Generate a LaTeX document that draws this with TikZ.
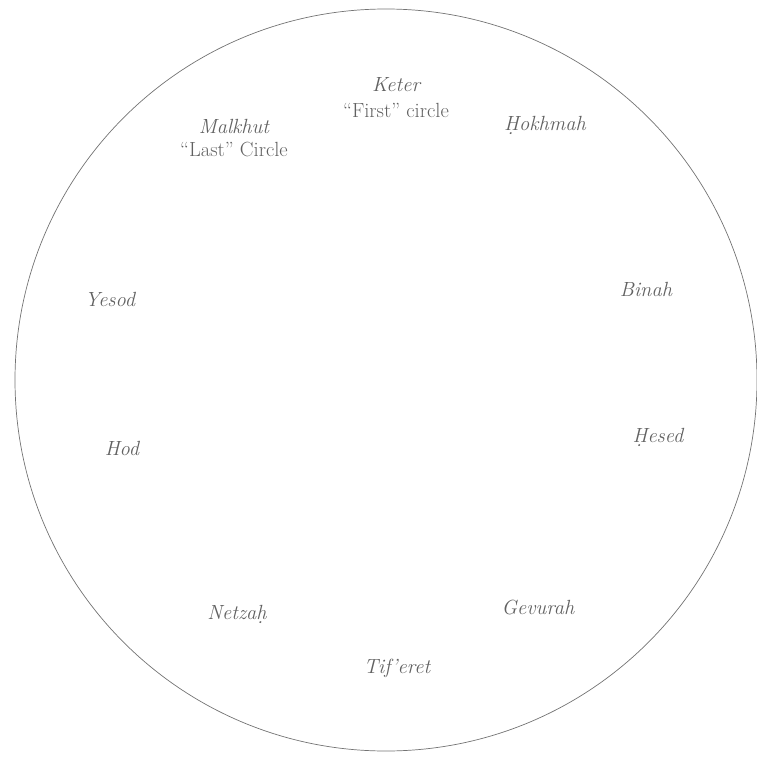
\documentclass[tikz,border=0pt]{standalone}
\begin{document}
\begin{tikzpicture}[x=1pt,y=-1pt,
  lbl/.style={text=black!62,font=\fontsize{20.5}{24}\selectfont\itshape,inner sep=0pt,align=center},
  sub/.style={text=black!62,font=\fontsize{20.5}{24}\selectfont,inner sep=0pt,align=center}]
\useasboundingbox (0,0) rectangle (756,757);
\draw[black!55,line width=0.7pt] (386,380) circle (371);
\node[lbl] (keter) at (396,85) {Keter};
\node[sub] (first) at (396,110) {``First'' circle};
\node[lbl] (malkhut) at (234,126) {Malkhut};
\node[sub] (last) at (234,149) {``Last'' Circle};
\node[lbl] (hokhmah) at (545,125) {\d{H}okhmah};
\node[lbl] (binah) at (646,289) {Binah};
\node[lbl] (yesod) at (110,299) {Yesod};
\node[lbl] (hod) at (122,448) {Hod};
\node[lbl] (hesed) at (658,437) {\d{H}esed};
\node[lbl] (gevurah) at (538,607) {Gevurah};
\node[lbl] (netzah) at (237,614) {Netza\d{h}};
\node[lbl] (tiferet) at (397,668) {Tif’eret};
\end{tikzpicture}
\end{document}
